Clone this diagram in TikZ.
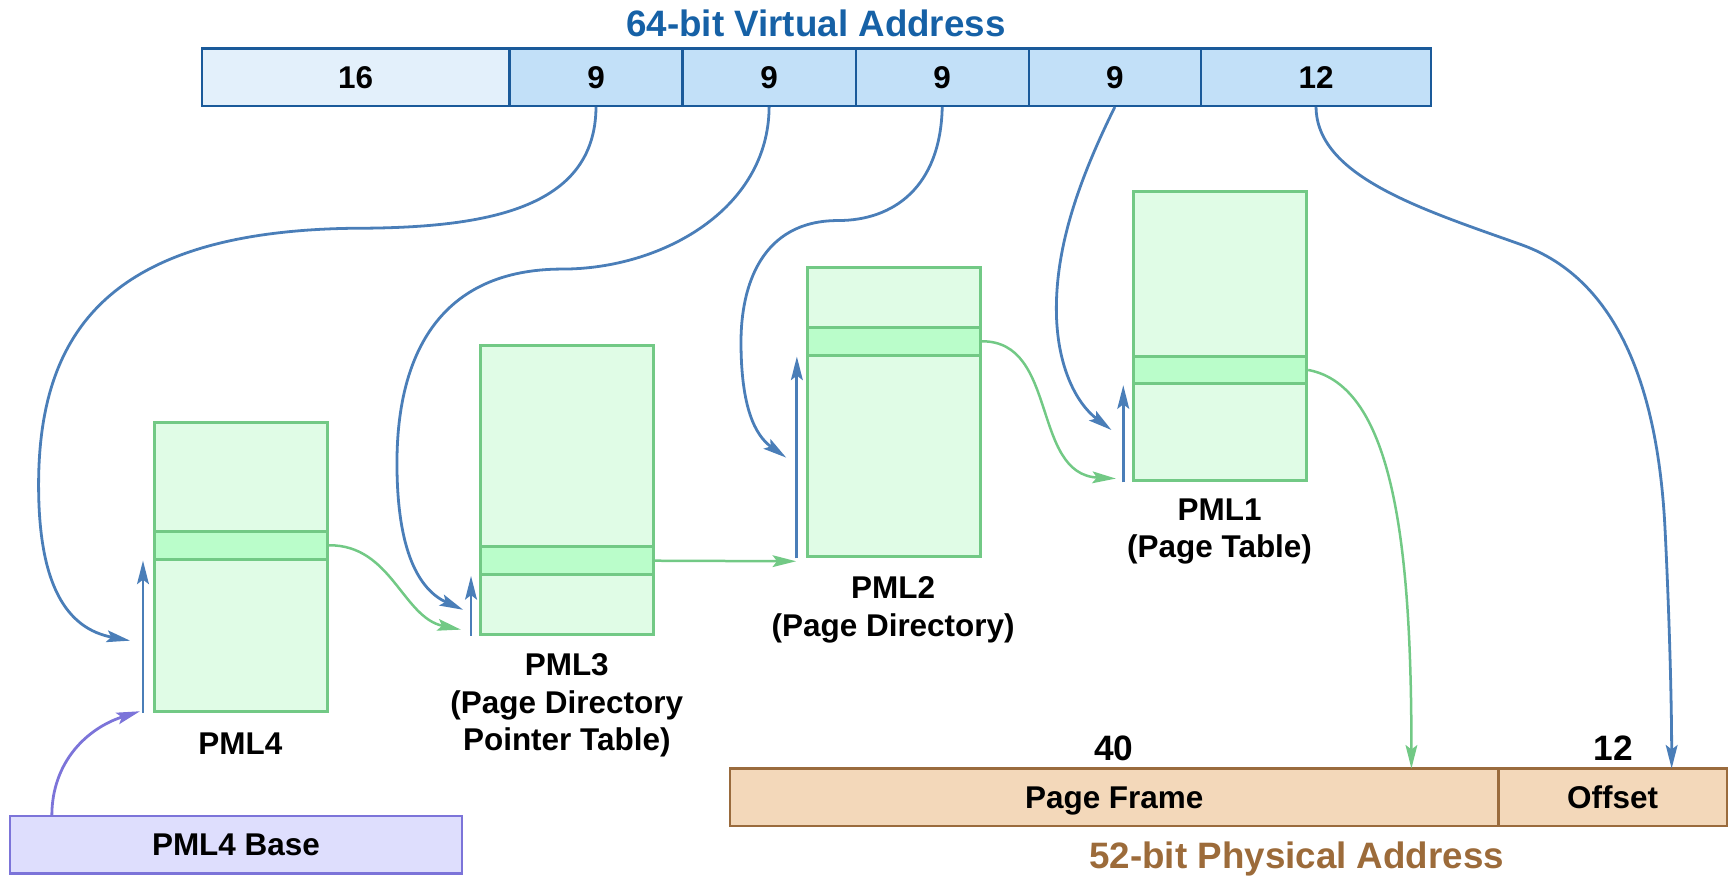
\documentclass[tikz,border=0pt]{standalone}
\usepackage{fontspec}
\setmainfont{Liberation Sans}
\usetikzlibrary{arrows.meta}
\definecolor{barblue}{HTML}{1A5A9A}
\definecolor{titleblue}{HTML}{1661A6}
\definecolor{celllight}{HTML}{E3F0FB}
\definecolor{cellblue}{HTML}{C2E0F8}
\definecolor{lblue}{HTML}{4A7EB8}
\definecolor{tgreen}{HTML}{72C985}
\definecolor{tfill}{HTML}{E0FCE6}
\definecolor{thigh}{HTML}{BAFDCA}
\definecolor{pstroke}{HTML}{7C74D9}
\definecolor{pfill}{HTML}{DEDEFD}
\definecolor{bstroke}{HTML}{9A6B3D}
\definecolor{bfill}{HTML}{F3D8BA}
\definecolor{btext}{HTML}{9C6B3A}
\def\u{0.75pt}
\begin{document}
\begin{tikzpicture}[x=0.75pt,y=-0.75pt,
  font=\bfseries\fontsize{21.4}{25.5}\selectfont,
  capc/.style={text height=15.3pt, text depth=0pt},
  vcell/.style={draw=barblue, line width=1.5pt, fill=cellblue, minimum height=52*\u, inner sep=0pt, capc},
  tbl/.style={draw=tgreen, line width=2pt, fill=tfill, inner sep=0pt, minimum width=157*\u, minimum height=262*\u},
  trow/.style={draw=tgreen, line width=2pt, fill=thigh, inner sep=0pt, minimum width=157*\u, minimum height=25*\u},
  lbl/.style={align=center, inner sep=0pt},
  tip/.style={-{Stealth[length=16pt,width=8pt,inset=3pt]}},
  barrow/.style={draw=lblue, line width=1.9pt, tip},
  garrow/.style={draw=tgreen, line width=1.7pt, tip},
  parrow/.style={draw=pstroke, line width=1.9pt, tip},
  pcell/.style={draw=bstroke, line width=1.5pt, fill=bfill, minimum height=52*\u, inner sep=0pt, capc},
  ttl/.style={font=\bfseries\fontsize{25}{30}\selectfont, inner sep=0pt, text height=17.9pt, text depth=0pt},
  big/.style={font=\bfseries\fontsize{24}{28}\selectfont, inner sep=0pt, text height=17.2pt, text depth=0pt}
]
\useasboundingbox (0,0) rectangle (1568,794);

% virtual address bar
\node[ttl, text=titleblue] (vtitle) at (740,21) {64-bit Virtual Address};
\node[vcell, fill=celllight, minimum width=279*\u] (c0) at (322.5,70) {16};
\node[vcell, minimum width=157*\u] (c1) at (540.5,70) {9};
\node[vcell, minimum width=157*\u] (c2) at (697.5,70) {9};
\node[vcell, minimum width=157*\u] (c3) at (854.5,70) {9};
\node[vcell, minimum width=156*\u] (c4) at (1011,70) {9};
\node[vcell, minimum width=209*\u] (c5) at (1193.5,70) {12};

% tables
\node[tbl] (p4) at (218.5,514) {};
\node[trow] (p4r) at (218.5,494.5) {};
\node[tbl] (p3) at (514,444) {};
\node[trow] (p3r) at (514,508.5) {};
\node[tbl] (p2) at (810.5,374) {};
\node[trow] (p2r) at (810.5,309.5) {};
\node[tbl] (p1) at (1106.5,305) {};
\node[trow] (p1r) at (1106.5,335.5) {};

\node[lbl] (l4) at (218,674) {PML4};
\node[lbl] (l3) at (514,640) {PML3\\(Page Directory\\Pointer Table)};
\node[lbl] (l2) at (810,553) {PML2\\(Page Directory)};
\node[lbl] (l1) at (1106,482) {PML1\\(Page Table)};

% physical address bar
\node[big] (n40) at (1010,678) {40};
\node[big] (n12) at (1463,678) {12};
\node[pcell, minimum width=697*\u] (pf) at (1010.5,723) {Page Frame};
\node[pcell, minimum width=207*\u] (off) at (1462.5,723) {Offset};
\node[ttl, text=btext] (ptitle) at (1176,776) {52-bit Physical Address};

% base
\node[draw=pstroke, fill=pfill, line width=1.8pt, minimum width=410*\u, minimum height=52*\u, inner sep=0pt, capc] (base) at (214,766) {PML4 Base};

% free ends
\coordinate (e4) at (118,581);
\coordinate (e3) at (420,553);
\coordinate (e2) at (713,415);
\coordinate (e1) at (1008,390);
\coordinate (offin) at (1516,697);
\coordinate (g4) at (418,571);
\coordinate (g3) at (722,509);
\coordinate (g2) at (1012,434);
\coordinate (pfin) at (1280,697);
\coordinate (bs) at (47,740);
\coordinate (bt) at (127,645);

% base pointer arrows
\draw[barrow] ([xshift=-9*\u]p4.south west) -- ([xshift=-9*\u]p4r.south west);
\draw[barrow] ([xshift=-7*\u]p3.south west) -- ([xshift=-7*\u]p3r.south west);
\draw[barrow] ([xshift=-8*\u]p2.south west) -- ([xshift=-8*\u]p2r.south west);
\draw[barrow] ([xshift=-8*\u]p1.south west) -- ([xshift=-8*\u]p1r.south west);

% index curves
\draw[barrow] (c1.south) .. controls (540,190) and (440,207) .. (320,207)
   .. controls (100,210) and (35,300) .. (35,440)
   .. controls (35,530) and (60,570) .. (e4);
\draw[barrow] (c2.south) .. controls (697,190) and (600,244) .. (510,244)
   .. controls (400,244) and (360,320) .. (360,420)
   .. controls (360,500) and (380,535) .. (e3);
\draw[barrow] (c3.south) .. controls (853,170) and (810,200) .. (760,200)
   .. controls (690,200) and (672,260) .. (672,310)
   .. controls (672,370) and (685,395) .. (e2);
\draw[barrow] (c4.south) .. controls (980,160) and (958,220) .. (958,280)
   .. controls (958,330) and (975,365) .. (e1);
\draw[barrow] (c5.south) .. controls (1194,160) and (1290,190) .. (1380,222)
   .. controls (1480,258) and (1505,380) .. (1510,480)
   .. controls (1514,560) and (1516,640) .. (offin);

% entry curves
\draw[garrow] (p4r.east) .. controls (355,494) and (365,560) .. (g4);
\draw[garrow] (p3r.east) -- (g3);
\draw[garrow] (p2r.east) .. controls (960,309) and (935,430) .. (g2);
\draw[garrow] (p1r.east) .. controls (1265,350) and (1280,500) .. (pfin);

% base curve
\draw[parrow] (bs) .. controls (47,690) and (80,660) .. (bt);
\end{tikzpicture}
\end{document}
